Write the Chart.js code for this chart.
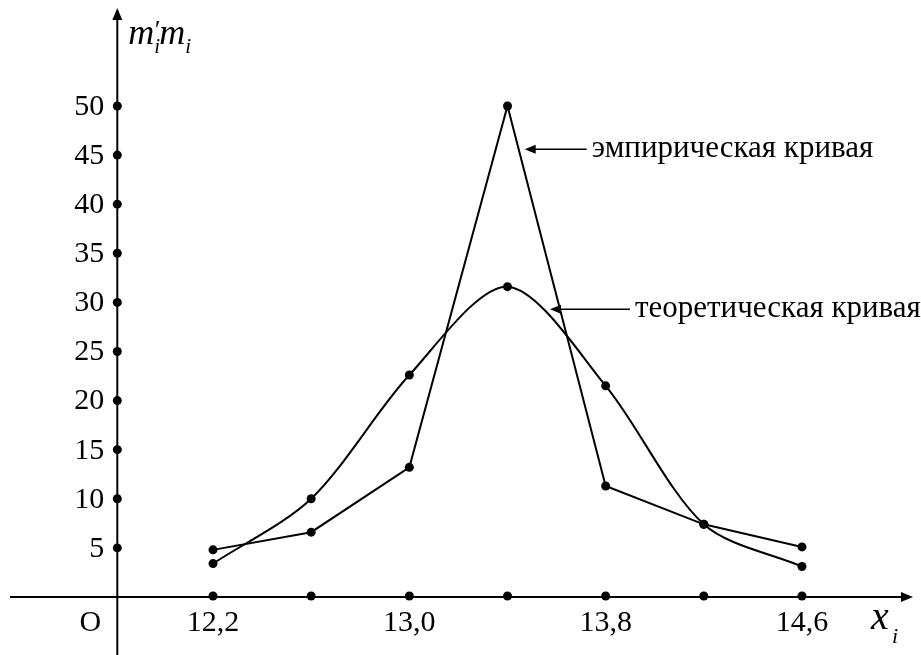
<!DOCTYPE html>
<html><head><meta charset="utf-8">
<script src="https://cdn.jsdelivr.net/npm/chart.js@4/dist/chart.umd.min.js"></script>
<style>html,body{margin:0;padding:0;background:#fff;overflow:hidden}canvas{display:block}</style>
</head><body><canvas id="c" width="921" height="655" style="width:921px;height:655px"></canvas>
<script>
const xValues = [12.2, 12.6, 13.0, 13.4, 13.8, 14.2, 14.6];
const empirical = [4.8, 6.6, 13.2, 50, 11.3, 7.4, 5.1];
const theoretical = [3.4, 10.0, 22.6, 31.6, 21.5, 7.4, 3.1];
const xTicks = [12.2, 12.6, 13.0, 13.4, 13.8, 14.2, 14.6];
const xTickLabels = ['12,2', '', '13,0', '', '13,8', '', '14,6'];
const yTicks = [5, 10, 15, 20, 25, 30, 35, 40, 45, 50];
const yTickLabels = ['5', '10', '15', '20', '25', '30', '35', '40', '45', '50'];
const seriesNames = ['эмпирическая кривая', 'теоретическая кривая'];
const originLabel = 'O';
const yAxisAt = 11.81;

const SERIF = "'Liberation Serif', 'Times New Roman', serif";

function arrowHead(ctx, tx, ty, dx, dy, len, half) {
  const n = Math.hypot(dx, dy); const ux = dx / n, uy = dy / n;
  ctx.beginPath();
  ctx.moveTo(tx, ty);
  ctx.lineTo(tx - ux * len - uy * half, ty - uy * len + ux * half);
  ctx.lineTo(tx - ux * len + uy * half, ty - uy * len - ux * half);
  ctx.closePath(); ctx.fill();
}

const axesPlugin = {
  id: 'mathAxes',
  beforeDatasetsDraw(chart) {
    const {ctx, scales: {x, y}} = chart;
    const x0 = x.getPixelForValue(yAxisAt);
    const y0 = y.getPixelForValue(0);
    ctx.save();
    ctx.strokeStyle = '#000'; ctx.fillStyle = '#000'; ctx.lineWidth = 2;
    // x axis
    ctx.beginPath(); ctx.moveTo(10, y0); ctx.lineTo(905, y0); ctx.stroke();
    arrowHead(ctx, 913, y0, 1, 0, 12, 5);
    // y axis
    ctx.beginPath(); ctx.moveTo(x0, 655); ctx.lineTo(x0, 16); ctx.stroke();
    arrowHead(ctx, x0, 8, 0, -1, 12, 5);
    // tick dots
    xTicks.forEach(v => { ctx.beginPath(); ctx.arc(x.getPixelForValue(v), y0 - 1, 4.5, 0, Math.PI * 2); ctx.fill(); });
    yTicks.forEach(v => { ctx.beginPath(); ctx.arc(x0, y.getPixelForValue(v), 4.5, 0, Math.PI * 2); ctx.fill(); });
    // tick labels
    ctx.font = '30px ' + SERIF;
    ctx.textAlign = 'center'; ctx.textBaseline = 'alphabetic';
    xTicks.forEach((v, i) => { if (xTickLabels[i]) ctx.fillText(xTickLabels[i], x.getPixelForValue(v), y0 + 34); });
    ctx.textAlign = 'right'; ctx.textBaseline = 'middle';
    yTicks.forEach((v, i) => ctx.fillText(yTickLabels[i], x0 - 13, y.getPixelForValue(v) + 1));
    ctx.textAlign = 'center'; ctx.textBaseline = 'alphabetic';
    ctx.fillText(originLabel, x0 - 27, y0 + 34);
    // axis titles
    ctx.textAlign = 'left';
    ctx.font = 'italic 36px ' + SERIF;
    ctx.fillText('m', x0 + 11, 44);
    ctx.font = 'italic 26px ' + SERIF;
    ctx.fillText('\u2032', x0 + 36, 38);
    ctx.font = 'italic 21px ' + SERIF;
    ctx.fillText('i', x0 + 37, 53);
    ctx.font = 'italic 36px ' + SERIF;
    ctx.fillText('m', x0 + 42, 44);
    ctx.font = 'italic 21px ' + SERIF;
    ctx.fillText('i', x0 + 68, 53);
    ctx.font = 'italic 40px ' + SERIF;
    ctx.fillText('x', 871, y0 + 32);
    ctx.font = 'italic 22px ' + SERIF;
    ctx.fillText('i', 892, y0 + 46);
    ctx.restore();
  },
  afterDraw(chart) {
    const {ctx, scales: {x, y}} = chart;
    ctx.save();
    ctx.strokeStyle = '#000'; ctx.fillStyle = '#000'; ctx.lineWidth = 1.5;
    ctx.font = '31px ' + SERIF; ctx.textAlign = 'left'; ctx.textBaseline = 'alphabetic';
    const notes = [
      {name: seriesNames[0], ax: 13.47, ay: 45.6, len: 62},
      {name: seriesNames[1], ax: 13.573, ay: 29.3, len: 80}
    ];
    notes.forEach(n => {
      const tx = x.getPixelForValue(n.ax), ty = y.getPixelForValue(n.ay);
      ctx.beginPath(); ctx.moveTo(tx + 6, ty); ctx.lineTo(tx + n.len, ty); ctx.stroke();
      arrowHead(ctx, tx, ty, -1, 0, 11, 4.5);
      ctx.fillText(n.name, tx + n.len + 5, ty + 8);
    });
    ctx.restore();
  }
};

const toPts = arr => xValues.map((v, i) => ({x: v, y: arr[i]}));

new Chart(document.getElementById('c'), {
  type: 'line',
  data: {
    datasets: [
      {label: seriesNames[0], data: toPts(empirical), borderColor: '#000', backgroundColor: '#000',
       borderWidth: 2, pointRadius: 4.5, pointBackgroundColor: '#000', pointBorderWidth: 0, tension: 0, fill: false},
      {label: seriesNames[1], data: toPts(theoretical), borderColor: '#000', backgroundColor: '#000',
       borderWidth: 2, pointRadius: 4.5, pointBackgroundColor: '#000', pointBorderWidth: 0,
       tension: 0.3, fill: false}
    ]
  },
  options: {
    responsive: false, animation: false, devicePixelRatio: 1,
    layout: {padding: 0, autoPadding: false},
    plugins: {legend: {display: false}, tooltip: {enabled: false}, title: {display: false}},
    scales: {
      x: {type: 'linear', display: false, min: 11.332, max: 15.085},
      y: {type: 'linear', display: false, min: -5.906, max: 60.79}
    }
  },
  plugins: [axesPlugin]
});
</script></body></html>
